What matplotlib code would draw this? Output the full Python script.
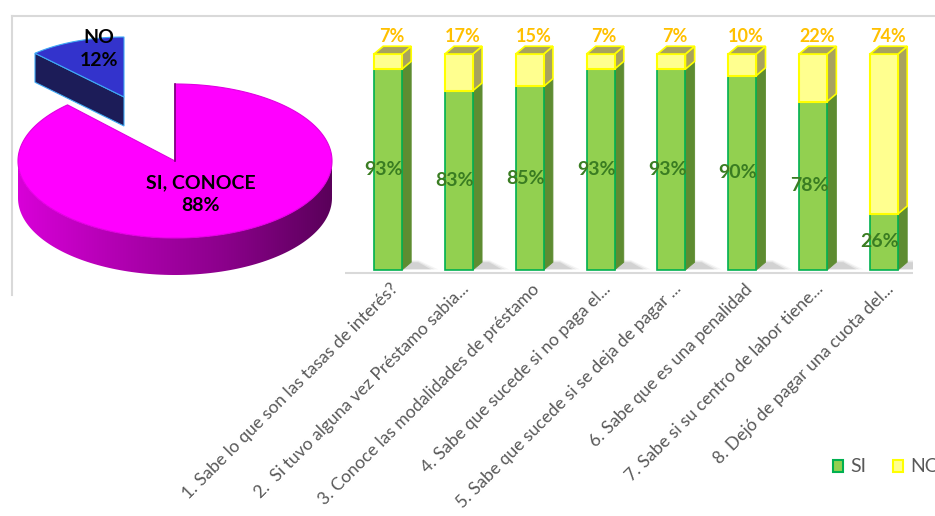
import numpy as np
import matplotlib
matplotlib.use("Agg")
import matplotlib.pyplot as plt
from matplotlib.patches import Polygon, Rectangle
from matplotlib.colors import LinearSegmentedColormap
from matplotlib.lines import Line2D

# ---------------- data ----------------
pie_labels = ["SI, CONOCE", "NO"]
pie_values = [88, 12]

questions = [
    "1. Sabe lo que son las tasas de interés?",
    "2.  Si tuvo alguna vez Préstamo sabia...",
    "3. Conoce las modalidades de préstamo",
    "4. Sabe que sucede si no paga el...",
    "5. Sabe que sucede si se deja de pagar ...",
    "6. Sabe que es una penalidad",
    "7. Sabe si su centro de labor tiene...",
    "8. Dejó de pagar una cuota del...",
]
si_values = [93, 83, 85, 93, 93, 90, 78, 26]
no_values = [7, 17, 15, 7, 7, 10, 22, 74]
series_names = ["SI", "NO"]

W, H = 935, 516
fig = plt.figure(figsize=(W / 100, H / 100), dpi=100)
fig.patch.set_facecolor("white")

# full-figure canvas in pixel units (pie, frame, legend)
canvas = fig.add_axes([0, 0, 1, 1])
canvas.set_xlim(0, W)
canvas.set_ylim(H, 0)
canvas.axis("off")

# light frame lines
canvas.add_line(Line2D([12, W], [16, 16], color="#D9D9D9", lw=1.5))
canvas.add_line(Line2D([12, 12], [16, 295], color="#D9D9D9", lw=1.5))

# ---------------- 3D pie ----------------
def arc(cx, cy, rx, ry, t0, t1, n=120, dy=0.0):
    t = np.radians(np.linspace(t0, t1, n))
    return np.column_stack([cx + rx * np.cos(t), cy - ry * np.sin(t) + dy])

total = float(sum(pie_values))
span_no = 360.0 * pie_values[1] / total
no_start, no_end = 90.0, 90.0 + span_no
si_start, si_end = no_end, 450.0

# NO slice (pulled out towards the back)
vx, vy = 124, 97
rxn, ryn, dn = 130, 60, 29
p_edge = arc(vx, vy, rxn, ryn, no_end, no_end, n=1)[0]
face = np.array([[vx, vy], p_edge, p_edge + [0, dn], [vx, vy + dn]])
canvas.add_patch(Polygon(face, closed=True, facecolor="#1C1C58",
                         edgecolor="#3FA9F5", lw=0.8, zorder=2))
top_no = np.vstack([[vx, vy], arc(vx, vy, rxn, ryn, no_start, no_end)])
canvas.add_patch(Polygon(top_no, closed=True, facecolor="#3333CC",
                         edgecolor="#3FA9F5", lw=0.8, zorder=3))

# SI slice
cx, cy, rx, ry, depth = 175, 161, 157, 77, 37
side = np.vstack([arc(cx, cy, rx, ry, 180, 360),
                  arc(cx, cy, rx, ry, 360, 180, dy=depth)])
side_patch = Polygon(side, closed=True, facecolor="none", edgecolor="none", zorder=4)
canvas.add_patch(side_patch)
grad_cmap = LinearSegmentedColormap.from_list(
    "rim", ["#D800D8", "#B000B0", "#8A008A", "#5A005A"])
grad = np.linspace(0, 1, 256).reshape(1, -1)
im = canvas.imshow(grad, cmap=grad_cmap, aspect="auto",
                   extent=[cx - rx, cx + rx, cy + ry + depth + 2, cy - 2],
                   zorder=4)
im.set_clip_path(side_patch)
canvas.set_xlim(0, W)
canvas.set_ylim(H, 0)

top_si = np.vstack([[cx, cy], arc(cx, cy, rx, ry, si_start, si_end, n=300)])
canvas.add_patch(Polygon(top_si, closed=True, facecolor="#FF00FF",
                         edgecolor="#E000E0", lw=0.8, zorder=5))
canvas.add_line(Line2D([cx, cx], [cy, cy - ry], color="#7A007A", lw=1.2, zorder=6))

canvas.text(201, 194, f"{pie_labels[0]}\n{pie_values[0]}%", ha="center", va="center",
            fontsize=14, fontweight="bold", family="Lato", color="black",
            linespacing=1.45, zorder=7)
canvas.text(99, 49, f"{pie_labels[1]}\n{pie_values[1]}%", ha="center", va="center",
            fontsize=14, fontweight="bold", family="Lato", color="black",
            linespacing=1.45, zorder=7)

# ---------------- 3D stacked bars ----------------
x0_px, step_px = 388, 70.86
base_px, unit_px = 270, 2.16
left_px, right_px, top_px = 345, 913, 16
ybot = -3
xl = (left_px - x0_px) / step_px
xr = (right_px - x0_px) / step_px
yt = (base_px - top_px) / unit_px
bottom_px = base_px - ybot * unit_px

ax = fig.add_axes([left_px / W, 1 - bottom_px / H,
                   (right_px - left_px) / W, (bottom_px - top_px) / H])
ax.set_xlim(xl, xr)
ax.set_ylim(ybot, yt)
ax.patch.set_alpha(0)
ax.axis("off")

x = np.arange(len(questions))
bw, ddx, ddy = 0.395, 0.13, 3.6
green, green_edge, green_side = "#92D050", "#00B050", "#5E8C31"
yellow, yellow_edge, yellow_side = "#FFFF8F", "#FFFF00", "#A8A25E"

ax.axhline(-1.4, color="#D9D9D9", lw=1.5, zorder=0)

for xi in x:
    for k, a in enumerate([0.18, 0.12, 0.08]):
        shadow = [(xi - bw / 2 + 0.05, 0.3), (xi + bw / 2 + ddx + 0.28 + 0.05 * k, 0.3),
                  (xi + bw / 2 + ddx + 0.1, ddy + 0.5 * k), (xi - bw / 2 + ddx, ddy + 0.5 * k)]
        ax.add_patch(Polygon(shadow, closed=True, facecolor="#7F7F7F",
                             edgecolor="none", alpha=a, zorder=1))

si = np.array(si_values, dtype=float)
no = np.array(no_values, dtype=float)
ax.bar(x, si, width=bw, color=green, edgecolor=green_edge, lw=1.2, zorder=3)
ax.bar(x, no, width=bw, bottom=si, color=yellow, edgecolor=yellow_edge, lw=1.5, zorder=3)

for xi, s, n in zip(x, si, no):
    r = xi + bw / 2
    ax.add_patch(Polygon([(r, 0), (r + ddx, ddy), (r + ddx, s + ddy), (r, s)],
                         closed=True, facecolor=green_side, edgecolor=green_side,
                         lw=0.6, zorder=2))
    ax.add_patch(Polygon([(r, s), (r + ddx, s + ddy), (r + ddx, s + n + ddy), (r, s + n)],
                         closed=True, facecolor=yellow_side, edgecolor=yellow_edge,
                         lw=1.2, zorder=2))
    t = s + n
    ax.add_patch(Polygon([(xi - bw / 2, t), (r, t), (r + ddx, t + ddy),
                          (xi - bw / 2 + ddx, t + ddy)],
                         closed=True, facecolor=yellow_side, edgecolor=yellow_edge,
                         lw=1.2, zorder=4))
    ax.text(xi - 0.06, s / 2, f"{int(s)}%", ha="center", va="center",
            fontsize=14, fontweight="bold", family="Lato", color="#3A7D22", zorder=6)
    ax.text(xi + 0.05, t + 8, f"{int(n)}%", ha="center", va="center",
            fontsize=13, fontweight="bold", family="Lato", color="#FFC000", zorder=6)

for xi, q in zip(x, questions):
    ax.text(xi + 0.02, -5.0, q, rotation=45, ha="right", va="top",
            rotation_mode="anchor", fontsize=12.6, family="Lato",
            color="#595959", clip_on=False)

# legend
canvas.add_patch(Rectangle((833, 460), 10, 12, facecolor=green,
                           edgecolor=green_edge, lw=1.5, zorder=8))
canvas.text(850, 466.5, series_names[0], ha="left", va="center", fontsize=14,
            family="Lato", color="#595959", zorder=8)
canvas.add_patch(Rectangle((893, 460), 10, 12, facecolor=yellow,
                           edgecolor=yellow_edge, lw=1.5, zorder=8))
canvas.text(910, 466.5, series_names[1], ha="left", va="center", fontsize=14,
            family="Lato", color="#595959", zorder=8)

fig.savefig("out.png", dpi=100, facecolor="white")
